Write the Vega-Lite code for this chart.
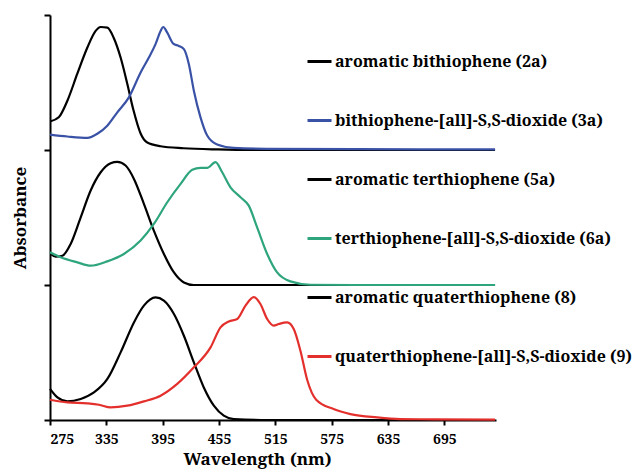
{
  "$schema": "https://vega.github.io/schema/vega-lite/v6.json",
  "width": 446,
  "height": 405,
  "padding": {"left": 11, "top": 14, "right": 5, "bottom": 2},
  "background": "white",
  "config": {
    "view": {"stroke": null},
    "axis": {"grid": false, "domainColor": "black", "domainWidth": 2, "tickColor": "black", "tickWidth": 2,
      "labelFont": "Noto Serif, DejaVu Serif, serif", "labelFontWeight": "bold", "labelFontSize": 14, "labelColor": "black",
      "titleFont": "Noto Serif, DejaVu Serif, serif", "titleFontWeight": "bold", "titleFontSize": 17, "titleColor": "black"}
  },
  "data": {"values": [
    {"s":"aromatic bithiophene (2a)","x":275.7,"y":2.213},{"s":"aromatic bithiophene (2a)","x":284.3,"y":2.242},{"s":"aromatic bithiophene (2a)","x":293.5,"y":2.365},{"s":"aromatic bithiophene (2a)","x":304.1,"y":2.565},{"s":"aromatic bithiophene (2a)","x":314.8,"y":2.759},{"s":"aromatic bithiophene (2a)","x":323.6,"y":2.882},{"s":"aromatic bithiophene (2a)","x":328.9,"y":2.911},{"s":"aromatic bithiophene (2a)","x":336.1,"y":2.906},{"s":"aromatic bithiophene (2a)","x":342.8,"y":2.832},{"s":"aromatic bithiophene (2a)","x":350.2,"y":2.685},{"s":"aromatic bithiophene (2a)","x":357.3,"y":2.491},{"s":"aromatic bithiophene (2a)","x":364,"y":2.292},{"s":"aromatic bithiophene (2a)","x":371.5,"y":2.122},{"s":"aromatic bithiophene (2a)","x":378.6,"y":2.055},{"s":"aromatic bithiophene (2a)","x":392.7,"y":2.028},{"s":"aromatic bithiophene (2a)","x":417.2,"y":2.013},{"s":"aromatic bithiophene (2a)","x":453.4,"y":2.004},{"s":"aromatic bithiophene (2a)","x":499,"y":2.0},{"s":"aromatic bithiophene (2a)","x":600,"y":2.0},{"s":"aromatic bithiophene (2a)","x":749,"y":2.0},
    {"s":" bithiophene-[all]-S,S-dioxide (3a)","x":275,"y":2.114},{"s":" bithiophene-[all]-S,S-dioxide (3a)","x":293.5,"y":2.1},{"s":" bithiophene-[all]-S,S-dioxide (3a)","x":314.8,"y":2.09},{"s":" bithiophene-[all]-S,S-dioxide (3a)","x":325.4,"y":2.12},{"s":" bithiophene-[all]-S,S-dioxide (3a)","x":336,"y":2.18},{"s":" bithiophene-[all]-S,S-dioxide (3a)","x":346.7,"y":2.279},{"s":" bithiophene-[all]-S,S-dioxide (3a)","x":359,"y":2.39},{"s":" bithiophene-[all]-S,S-dioxide (3a)","x":371.5,"y":2.574},{"s":" bithiophene-[all]-S,S-dioxide (3a)","x":380.3,"y":2.685},{"s":" bithiophene-[all]-S,S-dioxide (3a)","x":387.4,"y":2.784},{"s":" bithiophene-[all]-S,S-dioxide (3a)","x":392.8,"y":2.882},{"s":" bithiophene-[all]-S,S-dioxide (3a)","x":395.6,"y":2.911},{"s":" bithiophene-[all]-S,S-dioxide (3a)","x":399.9,"y":2.869},{"s":" bithiophene-[all]-S,S-dioxide (3a)","x":406.3,"y":2.788},{"s":" bithiophene-[all]-S,S-dioxide (3a)","x":412.2,"y":2.771},{"s":" bithiophene-[all]-S,S-dioxide (3a)","x":417.6,"y":2.747},{"s":" bithiophene-[all]-S,S-dioxide (3a)","x":422.9,"y":2.636},{"s":" bithiophene-[all]-S,S-dioxide (3a)","x":428.2,"y":2.439},{"s":" bithiophene-[all]-S,S-dioxide (3a)","x":435.3,"y":2.242},{"s":" bithiophene-[all]-S,S-dioxide (3a)","x":442.4,"y":2.107},{"s":" bithiophene-[all]-S,S-dioxide (3a)","x":453,"y":2.041},{"s":" bithiophene-[all]-S,S-dioxide (3a)","x":470.5,"y":2.016},{"s":" bithiophene-[all]-S,S-dioxide (3a)","x":506,"y":2.009},{"s":" bithiophene-[all]-S,S-dioxide (3a)","x":600,"y":2.006},{"s":" bithiophene-[all]-S,S-dioxide (3a)","x":749,"y":2.005},
    {"s":"aromatic terthiophene (5a)","x":275.7,"y":1.23},{"s":"aromatic terthiophene (5a)","x":281,"y":1.21},{"s":"aromatic terthiophene (5a)","x":288.2,"y":1.217},{"s":"aromatic terthiophene (5a)","x":297,"y":1.304},{"s":"aromatic terthiophene (5a)","x":307.7,"y":1.501},{"s":"aromatic terthiophene (5a)","x":318.3,"y":1.7},{"s":"aromatic terthiophene (5a)","x":329,"y":1.835},{"s":"aromatic terthiophene (5a)","x":339.6,"y":1.902},{"s":"aromatic terthiophene (5a)","x":346.7,"y":1.912},{"s":"aromatic terthiophene (5a)","x":355.5,"y":1.885},{"s":"aromatic terthiophene (5a)","x":364.4,"y":1.786},{"s":"aromatic terthiophene (5a)","x":375,"y":1.601},{"s":"aromatic terthiophene (5a)","x":385.6,"y":1.403},{"s":"aromatic terthiophene (5a)","x":396.3,"y":1.23},{"s":"aromatic terthiophene (5a)","x":407,"y":1.093},{"s":"aromatic terthiophene (5a)","x":417.6,"y":1.019},{"s":"aromatic terthiophene (5a)","x":428,"y":1.0},{"s":"aromatic terthiophene (5a)","x":500,"y":1.0},{"s":"aromatic terthiophene (5a)","x":749,"y":1.0},
    {"s":"terthiophene-[all]-S,S-dioxide (6a)","x":275,"y":1.242},{"s":"terthiophene-[all]-S,S-dioxide (6a)","x":286.4,"y":1.205},{"s":"terthiophene-[all]-S,S-dioxide (6a)","x":304.1,"y":1.168},{"s":"terthiophene-[all]-S,S-dioxide (6a)","x":318.3,"y":1.143},{"s":"terthiophene-[all]-S,S-dioxide (6a)","x":336,"y":1.175},{"s":"terthiophene-[all]-S,S-dioxide (6a)","x":353.7,"y":1.23},{"s":"terthiophene-[all]-S,S-dioxide (6a)","x":371.5,"y":1.329},{"s":"terthiophene-[all]-S,S-dioxide (6a)","x":385.6,"y":1.452},{"s":"terthiophene-[all]-S,S-dioxide (6a)","x":399.9,"y":1.613},{"s":"terthiophene-[all]-S,S-dioxide (6a)","x":414.1,"y":1.749},{"s":"terthiophene-[all]-S,S-dioxide (6a)","x":426.5,"y":1.853},{"s":"terthiophene-[all]-S,S-dioxide (6a)","x":435.3,"y":1.868},{"s":"terthiophene-[all]-S,S-dioxide (6a)","x":442.4,"y":1.868},{"s":"terthiophene-[all]-S,S-dioxide (6a)","x":451.3,"y":1.91},{"s":"terthiophene-[all]-S,S-dioxide (6a)","x":458.4,"y":1.835},{"s":"terthiophene-[all]-S,S-dioxide (6a)","x":467.2,"y":1.724},{"s":"terthiophene-[all]-S,S-dioxide (6a)","x":477.9,"y":1.65},{"s":"terthiophene-[all]-S,S-dioxide (6a)","x":486.7,"y":1.588},{"s":"terthiophene-[all]-S,S-dioxide (6a)","x":495.6,"y":1.427},{"s":"terthiophene-[all]-S,S-dioxide (6a)","x":506.3,"y":1.23},{"s":"terthiophene-[all]-S,S-dioxide (6a)","x":516.9,"y":1.093},{"s":"terthiophene-[all]-S,S-dioxide (6a)","x":531,"y":1.027},{"s":"terthiophene-[all]-S,S-dioxide (6a)","x":552.3,"y":1.002},{"s":"terthiophene-[all]-S,S-dioxide (6a)","x":600,"y":1.0},{"s":"terthiophene-[all]-S,S-dioxide (6a)","x":749,"y":1.0},
    {"s":"aromatic quaterthiophene (8)","x":275,"y":0.23},{"s":"aromatic quaterthiophene (8)","x":282.9,"y":0.167},{"s":"aromatic quaterthiophene (8)","x":293.5,"y":0.138},{"s":"aromatic quaterthiophene (8)","x":307.7,"y":0.156},{"s":"aromatic quaterthiophene (8)","x":321.8,"y":0.204},{"s":"aromatic quaterthiophene (8)","x":336.1,"y":0.304},{"s":"aromatic quaterthiophene (8)","x":350.2,"y":0.501},{"s":"aromatic quaterthiophene (8)","x":364.4,"y":0.723},{"s":"aromatic quaterthiophene (8)","x":375,"y":0.847},{"s":"aromatic quaterthiophene (8)","x":387.4,"y":0.908},{"s":"aromatic quaterthiophene (8)","x":396.3,"y":0.884},{"s":"aromatic quaterthiophene (8)","x":407,"y":0.785},{"s":"aromatic quaterthiophene (8)","x":417.6,"y":0.624},{"s":"aromatic quaterthiophene (8)","x":428.2,"y":0.427},{"s":"aromatic quaterthiophene (8)","x":438.8,"y":0.241},{"s":"aromatic quaterthiophene (8)","x":449.5,"y":0.106},{"s":"aromatic quaterthiophene (8)","x":460.1,"y":0.032},{"s":"aromatic quaterthiophene (8)","x":470.7,"y":0.007},{"s":"aromatic quaterthiophene (8)","x":500,"y":0},{"s":"aromatic quaterthiophene (8)","x":749,"y":0},
    {"s":"quaterthiophene-[all]-S,S-dioxide (9)","x":275,"y":0.15},{"s":"quaterthiophene-[all]-S,S-dioxide (9)","x":293.5,"y":0.13},{"s":"quaterthiophene-[all]-S,S-dioxide (9)","x":314.8,"y":0.123},{"s":"quaterthiophene-[all]-S,S-dioxide (9)","x":327.1,"y":0.113},{"s":"quaterthiophene-[all]-S,S-dioxide (9)","x":339.6,"y":0.093},{"s":"quaterthiophene-[all]-S,S-dioxide (9)","x":357.3,"y":0.106},{"s":"quaterthiophene-[all]-S,S-dioxide (9)","x":375,"y":0.138},{"s":"quaterthiophene-[all]-S,S-dioxide (9)","x":392.8,"y":0.18},{"s":"quaterthiophene-[all]-S,S-dioxide (9)","x":410.5,"y":0.267},{"s":"quaterthiophene-[all]-S,S-dioxide (9)","x":428.2,"y":0.39},{"s":"quaterthiophene-[all]-S,S-dioxide (9)","x":446,"y":0.538},{"s":"quaterthiophene-[all]-S,S-dioxide (9)","x":456.6,"y":0.686},{"s":"quaterthiophene-[all]-S,S-dioxide (9)","x":465.4,"y":0.73},{"s":"quaterthiophene-[all]-S,S-dioxide (9)","x":474.4,"y":0.748},{"s":"quaterthiophene-[all]-S,S-dioxide (9)","x":483.2,"y":0.847},{"s":"quaterthiophene-[all]-S,S-dioxide (9)","x":492,"y":0.91},{"s":"quaterthiophene-[all]-S,S-dioxide (9)","x":499.1,"y":0.859},{"s":"quaterthiophene-[all]-S,S-dioxide (9)","x":506.3,"y":0.748},{"s":"quaterthiophene-[all]-S,S-dioxide (9)","x":513.3,"y":0.699},{"s":"quaterthiophene-[all]-S,S-dioxide (9)","x":518.6,"y":0.711},{"s":"quaterthiophene-[all]-S,S-dioxide (9)","x":527.6,"y":0.723},{"s":"quaterthiophene-[all]-S,S-dioxide (9)","x":534.6,"y":0.674},{"s":"quaterthiophene-[all]-S,S-dioxide (9)","x":541.7,"y":0.513},{"s":"quaterthiophene-[all]-S,S-dioxide (9)","x":548.8,"y":0.3},{"s":"quaterthiophene-[all]-S,S-dioxide (9)","x":558.5,"y":0.15},{"s":"quaterthiophene-[all]-S,S-dioxide (9)","x":577,"y":0.081},{"s":"quaterthiophene-[all]-S,S-dioxide (9)","x":594.9,"y":0.044},{"s":"quaterthiophene-[all]-S,S-dioxide (9)","x":623.3,"y":0.019},{"s":"quaterthiophene-[all]-S,S-dioxide (9)","x":648,"y":0.007},{"s":"quaterthiophene-[all]-S,S-dioxide (9)","x":683,"y":0.005},{"s":"quaterthiophene-[all]-S,S-dioxide (9)","x":749,"y":0.003}
  ]},
  "mark": {"type": "line", "strokeWidth": 2.2, "interpolate": "monotone"},
  "encoding": {
    "x": {"field": "x", "type": "quantitative", "title": "Wavelength (nm)",
      "scale": {"domain": [275, 750], "nice": false, "zero": false},
      "axis": {"values": [275, 335, 395, 455, 515, 575, 635, 695], "tickSize": 5, "labelPadding": 7, "titlePadding": 5, "titleX": 207}},
    "y": {"field": "y", "type": "quantitative", "title": "Absorbance",
      "scale": {"domain": [0, 3], "nice": false},
      "axis": {"values": [0, 1, 2, 3], "labels": false, "tickSize": 6, "titlePadding": 14}},
    "color": {"field": "s", "type": "nominal", "sort": null,
      "scale": {"domain": ["aromatic bithiophene (2a)", " bithiophene-[all]-S,S-dioxide (3a)", "aromatic terthiophene (5a)", "terthiophene-[all]-S,S-dioxide (6a)", "aromatic quaterthiophene (8)", "quaterthiophene-[all]-S,S-dioxide (9)"],
        "range": ["#000000", "#3a52a6", "#000000", "#2ea57c", "#000000", "#e3302c"]},
      "legend": {"orient": "none", "legendX": 256, "legendY": 33, "title": null, "symbolType": "stroke", "symbolSize": 576, "symbolStrokeWidth": 3,
        "labelFont": "Noto Serif, DejaVu Serif, serif", "labelFontWeight": "bold", "labelFontSize": 16, "labelColor": "black", "labelLimit": 500, "labelOffset": 2, "rowPadding": 37}}
  }
}
